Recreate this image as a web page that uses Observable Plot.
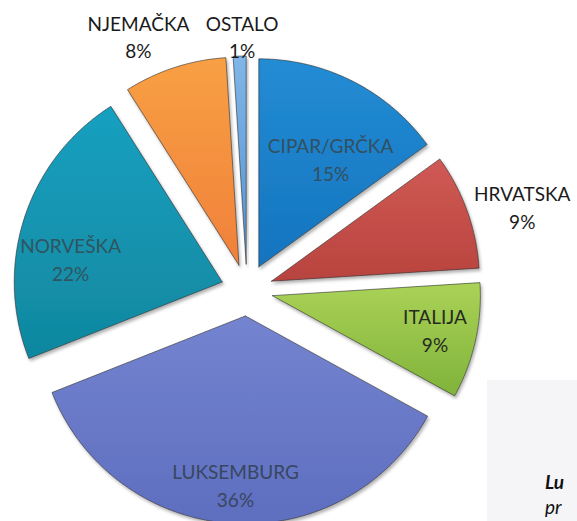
<!DOCTYPE html>
<html><head><meta charset="utf-8">
<script src="https://cdn.jsdelivr.net/npm/d3@7"></script>
<script src="https://cdn.jsdelivr.net/npm/@observablehq/plot@0.6"></script>
<style>
body{margin:0;background:#fff;}
#wrap{position:relative;width:577px;height:521px;overflow:hidden;}
#scan{position:absolute;left:487px;top:380px;width:90px;height:141px;background:#f5f5f7;font-family:Lato,sans-serif;font-style:italic;font-size:19px;color:#111;}
#scan div{position:absolute;left:58px;}
</style></head><body>
<div id="wrap"><div id="chart"></div><div id="scan"><div style="top:90px;font-weight:bold">Lu</div><div style="top:115px">pr</div></div></div>
<script>
// ---- data ----
const categories = ["CIPAR/GRČKA", "HRVATSKA", "ITALIJA", "LUKSEMBURG", "NORVEŠKA", "NJEMAČKA", "OSTALO"];
const values = [15, 9, 9, 36, 22, 8, 1];

// ---- layout / style ----
const colorTop    = ["#238cd4", "#d05a55", "#aad257", "#7484d0", "#18a0c0", "#f8a044", "#80b6e8"];
const colorBottom = ["#1474bf", "#b8433e", "#80b33a", "#5e6ebf", "#10879f", "#f0803a", "#5593d0"];
const textColor   = ["#33505f", "#1a1a1a", "#262b22", "#384660", "#2f5560", "#1a1a1a", "#1a1a1a"];
const labelDist   = [0.75, 1.383, 0.923, 0.934, 0.862, 1.33, 1.224];  // in radius units from pie centre
const labelShift  = [5.4, 2.9, -0.9, -0.2, -7.7, -5.1, 0.7];        // degrees
const explode = 0.125;
const W = 577, H = 521, R = 208, CX = 246.5, CY = 289.5;

const pie = d3.pie().sort(null).value(d => d)(values);
const rows = [];
pie.forEach((p, i) => {
  const m = (p.startAngle + p.endAngle) / 2;
  const ax = explode * Math.sin(m), ay = explode * Math.cos(m);
  rows.push({k: i, x: ax, y: ay});
  const n = Math.max(3, Math.ceil((p.endAngle - p.startAngle) / (Math.PI / 360)));
  for (let j = 0; j <= n; j++) {
    const a = p.startAngle + (p.endAngle - p.startAngle) * j / n;
    rows.push({k: i, x: ax + Math.sin(a), y: ay + Math.cos(a)});
  }
  rows.push({k: i, x: ax, y: ay});
});
const labels = pie.map((p, i) => {
  const m = (p.startAngle + p.endAngle) / 2 + labelShift[i] * Math.PI / 180;
  return {i, x: labelDist[i] * Math.sin(m), y: labelDist[i] * Math.cos(m),
          text: categories[i] + "\n" + values[i] + "%"};
});

const sliceMarks = pie.map((p, i) => Plot.line(rows.filter(r => r.k === i), {
  x: "x", y: "y", fill: `url(#g${i})`, stroke: "#2e2e2e", strokeOpacity: 0.6,
  strokeWidth: 1, strokeLinejoin: "round"
}));

const svg = Plot.plot({
  width: W, height: H, margin: 0,
  x: {domain: [-CX / R, (W - CX) / R], axis: null},
  y: {domain: [-(H - CY) / R, CY / R], axis: null},
  color: {type: "identity"},
  style: {background: "transparent"},
  marks: [
    ...sliceMarks,
    Plot.text(labels, {x: "x", y: "y", text: "text", fill: d => textColor[d.i],
      fontSize: 19, fontFamily: "Lato, 'Open Sans', sans-serif", lineHeight: 1.45, textAnchor: "middle"})
  ]
});

let defs = '<defs><filter id="sh" x="-10%" y="-10%" width="130%" height="130%"><feDropShadow dx="1.5" dy="2.5" stdDeviation="1.8" flood-color="#000" flood-opacity="0.3"/></filter>';
colorTop.forEach((c, i) => {
  defs += `<linearGradient id="g${i}" x1="0" y1="0" x2="0" y2="1"><stop offset="0" stop-color="${c}"/><stop offset="1" stop-color="${colorBottom[i]}"/></linearGradient>`;
});
defs += '</defs>';
svg.insertAdjacentHTML("afterbegin", defs);
svg.querySelectorAll('g[aria-label="line"] path').forEach(p => p.setAttribute("filter", "url(#sh)"));
document.getElementById("chart").appendChild(svg);
</script>
</body></html>
